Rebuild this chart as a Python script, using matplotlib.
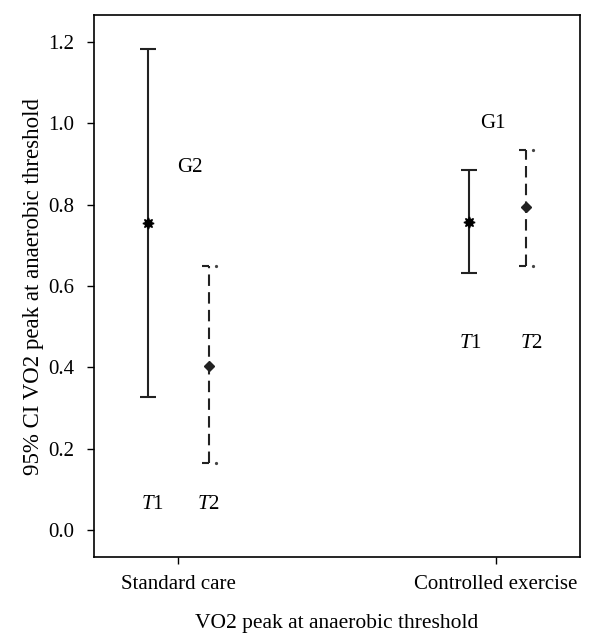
import matplotlib
matplotlib.use("Agg")
import matplotlib.pyplot as plt

plt.rcParams["font.family"] = ["Liberation Serif", "DejaVu Serif"]
plt.rcParams["mathtext.fontset"] = "custom"
plt.rcParams["mathtext.rm"] = "Liberation Serif"
plt.rcParams["mathtext.it"] = "Liberation Serif:italic"

# data: 95% CI of VO2 peak at anaerobic threshold
groups = ["Standard care", "Controlled exercise"]
group_tags = ["G2", "G1"]
t1_mean = [0.755, 0.758]
t1_low = [0.328, 0.631]
t1_high = [1.182, 0.884]
t2_mean = [0.404, 0.793]
t2_low = [0.165, 0.650]
t2_high = [0.649, 0.935]

# layout
t1_x = [0.906, 1.915]
t2_x = [1.097, 2.094]
cap = 0.024
fs = 15

fig = plt.figure(figsize=(5.96, 6.43), dpi=100)
ax = fig.add_axes([0.1577, 0.1337, 0.8153, 0.843])

for i in range(len(groups)):
    # T1: solid bar with full caps and star marker
    ax.vlines(t1_x[i], t1_low[i], t1_high[i], color="#222222", lw=1.5)
    ax.hlines([t1_low[i], t1_high[i]], t1_x[i] - cap, t1_x[i] + cap, color="#222222", lw=1.5)
    ax.plot(t1_x[i], t1_mean[i], marker=(8, 1, 0), ms=8, color="black", zorder=3)

    # T2: dashed bar with half caps and diamond marker
    ax.vlines(t2_x[i], t2_low[i], t2_high[i], color="#222222", lw=1.5,
              linestyles=(0, (5.5, 3)))
    ax.hlines([t2_low[i], t2_high[i]], t2_x[i] - cap * 0.9, t2_x[i], color="#222222", lw=1.5)
    ax.plot([t2_x[i] + cap * 0.9] * 2, [t2_low[i], t2_high[i]], ls="none",
            marker="o", ms=1.3, color="#444444")
    ax.plot(t2_x[i], t2_mean[i], marker="D", ms=5.5, color="#222222", zorder=3)

# annotations
ax.text(1.038, 0.891, group_tags[0], fontsize=fs, ha="center", va="center")
ax.text(1.99, 0.999, group_tags[1], fontsize=fs, ha="center", va="center")
ax.text(0.92, 0.064, r"$T$1", fontsize=fs, ha="center", va="center")
ax.text(1.097, 0.064, r"$T$2", fontsize=fs, ha="center", va="center")
ax.text(1.92, 0.459, r"$T$1", fontsize=fs, ha="center", va="center")
ax.text(2.11, 0.459, r"$T$2", fontsize=fs, ha="center", va="center")

ax.set_xlim(0.736, 2.264)
ax.set_ylim(-0.066, 1.266)
ax.set_xticks([1, 2])
ax.set_xticklabels(groups)
ax.set_yticks([0.0, 0.2, 0.4, 0.6, 0.8, 1.0, 1.2])
ax.set_yticklabels(["0.0", "0.2", "0.4", "0.6", "0.8", "1.0", "1.2"])
ax.tick_params(direction="out", length=5, width=1, labelsize=fs)
ax.tick_params(axis="y", pad=9)
ax.tick_params(axis="x", pad=8)
for s in ax.spines.values():
    s.set_linewidth(1.2)
ax.set_xlabel("VO2 peak at anaerobic threshold", fontsize=15.5, labelpad=14)
ax.set_ylabel("95% CI VO2 peak at anaerobic threshold", fontsize=16.5, labelpad=3)

fig.savefig("out.png", dpi=100)
